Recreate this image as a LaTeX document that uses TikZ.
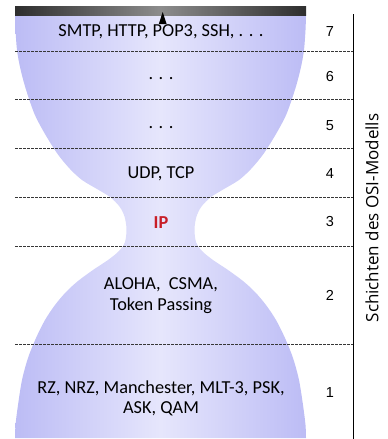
\documentclass[tikz,border=0pt]{standalone}
\usepackage{fontspec}
\setmainfont{Carlito}
\newfontfamily\numfont{Liberation Sans}
\newfontfamily\labelfont{Open Sans}
\definecolor{bulbedge}{RGB}{188,188,245}
\definecolor{bulbmid}{RGB}{230,230,252}
\definecolor{iptxt}{RGB}{200,30,40}
\definecolor{sepgray}{RGB}{55,55,55}
\tikzset{
  layertxt/.style={font=\fontsize{18.3}{21}\selectfont, align=center, inner sep=0pt},
  layernum/.style={font=\numfont\fontsize{14.5}{16}\selectfont, inner sep=0pt},
  sepline/.style={sepgray, line width=0.9pt, dash pattern=on 2.5pt off 1.5pt},
}
\begin{document}
\begin{tikzpicture}[x=1pt,y=-1pt]
\useasboundingbox (0,0) rectangle (388,439);

% hourglass body with horizontal shading
\shade[left color=bulbedge, right color=bulbedge, middle color=bulbmid]
  plot[smooth] coordinates {(15,15) (15.5,30) (17,50) (20,67) (25.5,88) (34.5,114) (45,134) (57.6,154) (70,169) (82,180) (97,189) (110,197) (119.5,206.5) (124.5,216.5) (126.5,229) (125,242) (119,251) (108,260) (93,270) (78,281) (66,292) (55,305) (45,320) (36,338) (28,358) (22,380) (18,405) (15.5,425) (15,438)}
  -- plot[smooth] coordinates {(306,438) (305.5,425) (303,405) (299,380) (293,358) (285,338) (276,320) (266,305) (255,292) (243,281) (228,270) (213,260) (202,251) (196,242) (194.5,229) (196.5,216.5) (201.5,206.5) (211,197) (224,189) (239,180) (251,169) (263.4,154) (276,134) (286.5,114) (295.5,88) (301,67) (304,50) (305.5,30) (306,15)}
  -- cycle;

% dark bar on top
\shade[left color=black!82, right color=black!82, middle color=black!45] (15,6) rectangle (306,15);
\fill (158.8,24) -- (162.7,12) -- (166.6,24) -- cycle;

% layer separators
\foreach \yy in {51,99,148,197,246,344}
  \draw[sepline] (15,\yy) -- (353,\yy);
\draw[line width=0.9pt] (353.5,14) -- (353.5,439);

% protocol labels
\node[layertxt] (p7) at (161,32) {SMTP, HTTP, POP3, SSH, . . .};
\node[layertxt] (p6) at (161,79) {. . .};
\node[layertxt] (p5) at (161,128) {. . .};
\node[layertxt] (p4) at (161,174) {UDP, TCP};
\node[layertxt, font=\fontsize{18.3}{21}\selectfont\bfseries, text=iptxt] (p3) at (161,223) {IP};
\node[layertxt] (p2) at (161,295.5) {ALOHA,\ \ CSMA,\\Token Passing};
\node[layertxt, font=\fontsize{18.3}{20}\selectfont] (p1) at (161,398) {RZ, NRZ, Manchester, MLT-3, PSK,\\ASK, QAM};

% layer numbers
\node[layernum] (n7) at (330,32) {7};
\node[layernum] (n6) at (330,77) {6};
\node[layernum] (n5) at (330,126) {5};
\node[layernum] (n4) at (330,174) {4};
\node[layernum] (n3) at (330,222) {3};
\node[layernum] (n2) at (330,295) {2};
\node[layernum] (n1) at (330,393) {1};

\node[font=\labelfont\fontsize{17}{19}\selectfont, rotate=90, inner sep=0pt] (osi) at (372,218) {Schichten des OSI-Modells};
\end{tikzpicture}
\end{document}
